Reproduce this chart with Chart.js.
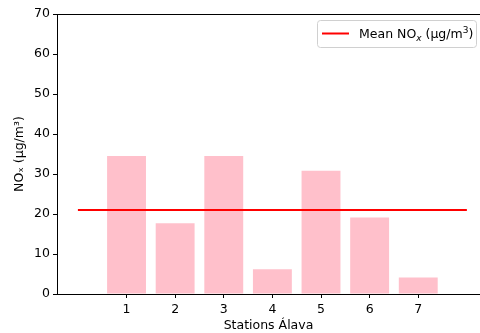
<!DOCTYPE html>
<html>
<head>
<meta charset="utf-8">
<script src="https://cdn.jsdelivr.net/npm/chart.js@4"></script>
<style>
  html, body { margin: 0; padding: 0; background: #fff; }
  #wrap { width: 480px; height: 333px; }
</style>
</head>
<body>
<div id="wrap"><canvas id="noxChart"></canvas></div>
<script>
// Data
const stations = [1, 2, 3, 4, 5, 6, 7];
const noxValues = [34.5, 17.7, 34.5, 6.2, 30.8, 19.1, 4.1];
const meanNox = 21.0;
const meanLineX = [0, 8];
const yTicks = [0, 10, 20, 30, 40, 50, 60, 70];

const FONT = 'DejaVu Sans';
const FS = 12.5;

// matplotlib-like frame: top spine plus a legend box with sub/superscripts
const framePlugin = {
    id: 'frame',
    afterDatasetsDraw(chart) {
        const c = chart.ctx;
        const a = chart.chartArea;
        c.save();
        c.strokeStyle = '#000';
        c.lineWidth = 1;
        c.beginPath();
        c.moveTo(a.left, a.top + 0.5);
        c.lineTo(a.right, a.top + 0.5);
        c.stroke();

        // legend
        const x0 = 317.5, y0 = 20.5, w = 159, h = 27;
        c.fillStyle = 'rgba(255,255,255,0.8)';
        c.strokeStyle = '#d0d0d0';
        c.beginPath();
        c.roundRect(x0, y0, w, h, 3);
        c.fill();
        c.stroke();
        c.strokeStyle = 'red';
        c.lineWidth = 2;
        c.beginPath();
        c.moveTo(322, 33.5);
        c.lineTo(349, 33.5);
        c.stroke();

        c.fillStyle = '#000';
        c.textBaseline = 'alphabetic';
        let tx = 359;
        const base = 38;
        const parts = [
            ['Mean NO', 0, FS],
            ['x', 2.5, 9, true],
            [' (µg/m', 0, FS],
            ['3', -5, 9],
            [')', 0, FS]
        ];
        parts.forEach(p => {
            c.font = (p[3] ? 'italic ' : '') + p[2] + 'px "' + FONT + '"';
            c.fillText(p[0], tx, base + p[1]);
            tx += c.measureText(p[0]).width;
        });
        c.restore();
    }
};

const ctx = document.getElementById('noxChart').getContext('2d');
new Chart(ctx, {
    type: 'bar',
    data: {
        datasets: [{
            type: 'line',
            label: 'Mean NOx (µg/m3)',
            data: meanLineX.map(x => ({ x: x, y: meanNox })),
            borderColor: 'red',
            borderWidth: 2,
            pointRadius: 0,
            order: 0
        }, {
            type: 'bar',
            label: 'NOx',
            data: stations.map((s, i) => ({ x: s, y: noxValues[i] })),
            backgroundColor: 'pink',
            borderWidth: 0,
            barPercentage: 0.8,
            categoryPercentage: 1.0,
            order: 1
        }]
    },
    options: {
        responsive: true,
        maintainAspectRatio: false,
        animation: false,
        layout: { padding: { top: 14, left: 12, right: 0, bottom: 0 } },
        plugins: {
            legend: { display: false },
            tooltip: { enabled: false }
        },
        scales: {
            x: {
                type: 'linear',
                offset: false,
                min: -0.43,
                max: 8.27,
                afterBuildTicks: (scale) => {
                    scale.ticks = stations.map(v => ({ value: v }));
                },
                afterFit: (scale) => { scale.height = 39; },
                grid: {
                    offset: false,
                    drawOnChartArea: false,
                    tickLength: 4,
                    color: '#000'
                },
                border: { color: '#000', width: 1 },
                ticks: {
                    color: '#000',
                    padding: 4,
                    font: { family: FONT, size: FS },
                    callback: (v) => String(v)
                },
                title: {
                    display: true,
                    text: 'Stations Álava',
                    color: '#000',
                    padding: { top: 0, bottom: 0 },
                    font: { family: FONT, size: FS }
                }
            },
            y: {
                min: 0,
                max: 70,
                afterBuildTicks: (scale) => {
                    scale.ticks = yTicks.map(v => ({ value: v }));
                },
                afterFit: (scale) => { scale.width = 45; },
                grid: {
                    drawOnChartArea: false,
                    tickLength: 4,
                    color: '#000'
                },
                border: { color: '#000', width: 1 },
                ticks: {
                    color: '#000',
                    padding: 3,
                    font: { family: FONT, size: FS }
                },
                title: {
                    display: true,
                    text: 'NOₓ (µg/m³)',
                    color: '#000',
                    padding: { top: 0, bottom: 4 },
                    font: { family: FONT, size: FS }
                }
            }
        }
    },
    plugins: [framePlugin]
});
</script>
</body>
</html>
